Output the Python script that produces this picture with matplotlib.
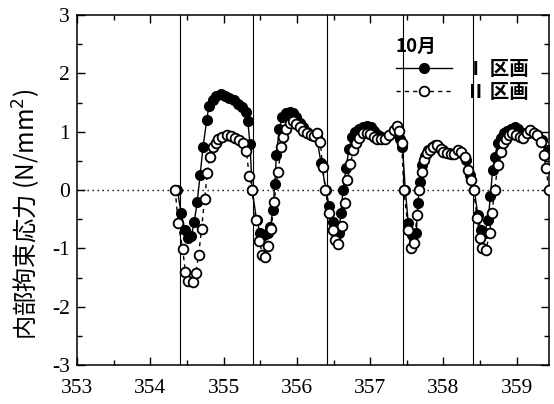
import matplotlib
matplotlib.use("Agg")
import matplotlib.pyplot as plt
from matplotlib.ticker import MultipleLocator

# ── Data ──────────────────────────────────────────────────────────────────
# Section I (filled circles, solid line)
day_1 = [354.37, 354.42, 354.47, 354.52, 354.56, 354.60, 354.64, 354.68, 354.72, 354.77,
         354.80, 354.85, 354.90, 354.96, 355.02, 355.08, 355.14, 355.19, 355.25, 355.30,
         355.33, 355.36, 355.39,
         355.45, 355.50, 355.55, 355.60, 355.64, 355.67, 355.70, 355.72, 355.76, 355.80,
         355.85, 355.90, 355.95, 355.99, 356.04, 356.09, 356.14, 356.20, 356.27, 356.33,
         356.40,
         356.44, 356.49, 356.53, 356.57, 356.60, 356.63, 356.67, 356.71, 356.75, 356.79,
         356.85, 356.90, 356.96, 357.01, 357.05, 357.11, 357.16, 357.23, 357.31, 357.36,
         357.41, 357.44, 357.48,
         357.52, 357.57, 357.63, 357.65, 357.68, 357.71, 357.75, 357.79, 357.84, 357.88,
         357.94, 358.00, 358.07, 358.12, 358.18, 358.24, 358.31, 358.36, 358.42,
         358.47, 358.51, 358.56, 358.61, 358.64, 358.67, 358.70, 358.74, 358.78, 358.82,
         358.87, 358.92, 358.97, 359.02, 359.08, 359.15, 359.21, 359.28, 359.35, 359.42]
stress_1 = [0.00, -0.40, -0.68, -0.83, -0.79, -0.54, -0.21, 0.26, 0.74, 1.20,
            1.44, 1.54, 1.61, 1.64, 1.61, 1.58, 1.54, 1.48, 1.42, 1.34,
            1.19, 0.79, 0.00,
            -0.51, -0.74, -0.77, -0.74, -0.63, -0.35, 0.11, 0.60, 1.05, 1.25,
            1.32, 1.34, 1.32, 1.25, 1.15, 1.08, 1.00, 0.94, 0.91, 0.46,
            0.00,
            -0.28, -0.54, -0.74, -0.74, -0.40, 0.00, 0.37, 0.70, 0.91, 1.00,
            1.05, 1.08, 1.09, 1.08, 1.01, 0.94, 0.91, 0.91, 0.97, 1.03,
            0.88, 0.74, 0.00,
            -0.57, -0.77, -0.74, -0.23, 0.14, 0.43, 0.58, 0.68, 0.74, 0.77,
            0.74, 0.68, 0.63, 0.62, 0.66, 0.63, 0.51, 0.26, 0.00,
            -0.43, -0.68, -0.74, -0.51, -0.11, 0.34, 0.57, 0.80, 0.90, 0.97,
            1.01, 1.05, 1.08, 1.04, 0.97, 0.97, 1.00, 0.94, 0.85, 0.68]

# Section II (open circles, dashed line)
day_2 = [354.34, 354.38, 354.44, 354.48, 354.52, 354.58, 354.62, 354.66, 354.70, 354.74,
         354.78, 354.81, 354.85, 354.89, 354.93, 354.98, 355.04, 355.10, 355.15, 355.21,
         355.27, 355.31, 355.35, 355.39,
         355.44, 355.49, 355.53, 355.57, 355.61, 355.65, 355.69, 355.74, 355.79, 355.81,
         355.85, 355.90, 355.95, 355.99, 356.04, 356.09, 356.14, 356.19, 356.24, 356.28,
         356.32, 356.35, 356.39,
         356.44, 356.49, 356.52, 356.56, 356.61, 356.65, 356.69, 356.73, 356.77, 356.80,
         356.85, 356.90, 356.95, 357.00, 357.05, 357.10, 357.15, 357.20, 357.26, 357.32,
         357.36, 357.40, 357.43, 357.46,
         357.52, 357.56, 357.60, 357.64, 357.67, 357.71, 357.74, 357.77, 357.81, 357.86,
         357.91, 357.96, 358.00, 358.05, 358.10, 358.15, 358.20, 358.24, 358.29, 358.34,
         358.37, 358.41,
         358.46, 358.50, 358.53, 358.58, 358.63, 358.66, 358.70, 358.74, 358.78, 358.81,
         358.85, 358.90, 358.94, 358.99, 359.04, 359.09, 359.14, 359.18, 359.23, 359.28,
         359.33, 359.37, 359.40, 359.44]
stress_2 = [0.00, -0.56, -1.01, -1.40, -1.56, -1.58, -1.42, -1.11, -0.66, -0.16,
            0.30, 0.57, 0.74, 0.81, 0.87, 0.91, 0.94, 0.92, 0.90, 0.85,
            0.81, 0.67, 0.24, 0.00,
            -0.52, -0.88, -1.11, -1.15, -0.96, -0.66, -0.20, 0.31, 0.74, 0.91,
            1.05, 1.15, 1.19, 1.14, 1.08, 1.01, 0.97, 0.94, 0.92, 0.97,
            0.83, 0.40, 0.00,
            -0.40, -0.68, -0.85, -0.92, -0.62, -0.23, 0.17, 0.44, 0.68, 0.81,
            0.90, 0.97, 0.98, 0.96, 0.91, 0.88, 0.87, 0.88, 0.94, 1.03,
            1.09, 1.01, 0.80, 0.00,
            -0.68, -1.00, -0.90, -0.43, 0.00, 0.31, 0.52, 0.63, 0.68, 0.74,
            0.77, 0.71, 0.66, 0.63, 0.62, 0.62, 0.68, 0.66, 0.57, 0.34,
            0.17, 0.00,
            -0.48, -0.83, -1.00, -1.03, -0.74, -0.40, 0.00, 0.43, 0.66, 0.80,
            0.88, 0.94, 0.97, 0.94, 0.91, 0.90, 0.98, 1.03, 0.97, 0.94,
            0.83, 0.60, 0.37, 0.00]

# day boundaries (thin vertical lines)
day_marks = [354.40, 355.40, 356.41, 357.45, 358.40]

X_LIM = (353, 359.44)
Y_LIM = (-3, 3)

CJK = ["Noto Sans CJK JP", "DejaVu Sans"]

# ── Style ─────────────────────────────────────────────────────────────────
plt.rcParams.update({
    "font.family": "serif",
    "font.serif": ["Liberation Serif", "Times New Roman", "DejaVu Serif"],
    "mathtext.fontset": "dejavusans",
})

# ── Figure ────────────────────────────────────────────────────────────────
fig = plt.figure(figsize=(5.54, 4.04), dpi=100)
ax = fig.add_axes([77 / 554, 1 - 365 / 404, (549 - 77) / 554, (365 - 15) / 404])

for xv in day_marks:
    ax.axvline(xv, color="black", linewidth=0.8, zorder=1)
ax.axhline(0, color="black", linewidth=1.0, linestyle=(0, (1, 2.6)), zorder=1)

ax.plot(day_1, stress_1, color="black", linestyle="-", linewidth=1.0,
        marker="o", markersize=7, markerfacecolor="black", markeredgecolor="black",
        label="Ⅰ 区画", zorder=3)
ax.plot(day_2, stress_2, color="black", linestyle=(0, (3, 3)), linewidth=1.0,
        marker="o", markersize=7, markerfacecolor="white", markeredgecolor="black",
        markeredgewidth=1.3, label="Ⅱ 区画", zorder=4)

ax.set_xlim(*X_LIM)
ax.set_ylim(*Y_LIM)
ax.xaxis.set_major_locator(MultipleLocator(1))
ax.xaxis.set_minor_locator(MultipleLocator(0.5))
ax.yaxis.set_major_locator(MultipleLocator(1))
ax.yaxis.set_minor_locator(MultipleLocator(0.5))
ax.tick_params(which="both", direction="in", top=True, right=True, width=1.0)
ax.tick_params(which="major", length=6, labelsize=15.5)
ax.tick_params(axis="x", which="major", pad=10)
ax.tick_params(axis="y", which="major", pad=5)
ax.tick_params(which="minor", length=3.5)
ax.set_xticks(ax.get_xticks())
ax.set_xticklabels([f"{v:g}" for v in ax.get_xticks()], family="Liberation Serif")
ax.set_yticks(ax.get_yticks())
ax.set_yticklabels([f"{v:g}" for v in ax.get_yticks()], family="Liberation Serif")
ax.set_xlim(*X_LIM)
ax.set_ylim(*Y_LIM)
for sp in ax.spines.values():
    sp.set_linewidth(1.1)

ax.set_ylabel("内部拘束応力 (N/mm$^2$)", family=CJK, fontsize=17.5)
ax.yaxis.set_label_coords(-0.072, 0.43)

leg = ax.legend(loc="upper left", bbox_to_anchor=(0.655, 0.965), frameon=False,
                title="10月", alignment="left", handlelength=2.9, handletextpad=0.7,
                borderpad=0, labelspacing=0.2, prop={"family": CJK, "size": 14,
                                                     "weight": "bold"})
leg.get_title().set_fontfamily(CJK)
leg.get_title().set_fontsize(13.5)
leg.get_title().set_fontweight("bold")

fig.savefig("out.png", dpi=100)
